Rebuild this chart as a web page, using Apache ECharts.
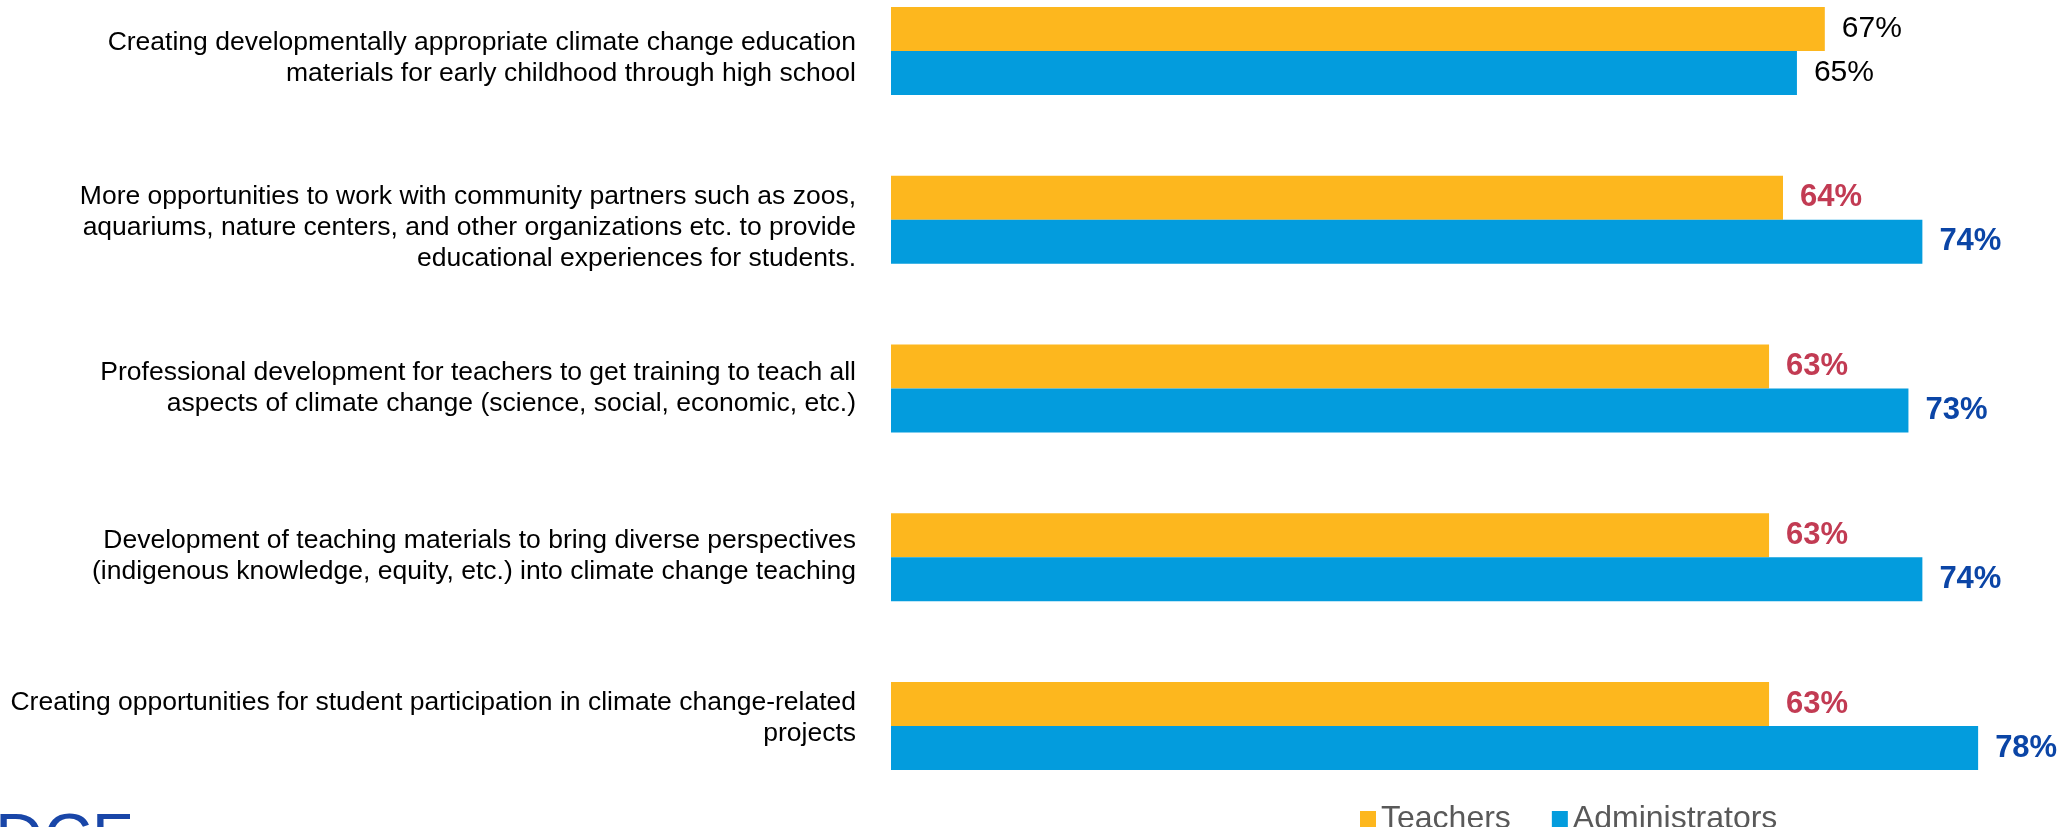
<!DOCTYPE html>
<html>
<head>
<meta charset="utf-8">
<script src="https://cdn.jsdelivr.net/npm/echarts@6/dist/echarts.min.js"></script>
<style>
  html, body { margin: 0; padding: 0; background: #fff; }
  #chart { width: 2069px; height: 827px; }
</style>
</head>
<body>
<div id="chart"></div>
<script>
// categories top to bottom
var categories = [
  "Creating developmentally appropriate climate change education\nmaterials for early childhood through high school",
  "More opportunities to work with community partners such as zoos,\naquariums, nature centers, and other organizations etc. to provide\neducational experiences for students.",
  "Professional development for teachers to get training to teach all\naspects of climate change (science, social, economic, etc.)",
  "Development of teaching materials to bring diverse perspectives\n(indigenous knowledge, equity, etc.) into climate change teaching",
  "Creating opportunities for student participation in climate change-related\nprojects"
];
var teachers = [67, 64, 63, 63, 63];
var administrators = [65, 74, 73, 74, 78];
// first row labels are plain, the rest are bold & coloured
var highlight = [false, true, true, true, true];

var dom = document.getElementById("chart");
var myChart = echarts.init(dom, null, { renderer: "canvas" });

// small vertical nudges of the category text (px, + is down), as in the slide.
// done with an invisible spacer line above / below the text
var labelShift = [7, 8, 0, -1, -8];
var catRich = {};
labelShift.forEach(function (s, i) {
  catRich["sp" + i] = { fontSize: 1, lineHeight: Math.max(1, 2 * Math.abs(s)) };
});

function catFormatter(value, index) {
  var s = labelShift[index] || 0;
  if (s > 0) return "{sp" + index + "| }\n" + value;
  if (s < 0) return value + "\n{sp" + index + "| }";
  return value;
}

function mkLabel(hlColor) {
  return {
    show: true,
    position: "right",
    distance: 17,
    formatter: function (p) {
      return highlight[p.dataIndex] ? "{hl|" + p.value + "%}" : "{pl|" + p.value + "%}";
    },
    rich: {
      pl: { fontFamily: "Liberation Sans", fontSize: 30, color: "#000" },
      hl: { fontFamily: "Liberation Sans", fontSize: 31, fontWeight: "bold", color: hlColor }
    }
  };
}

var option = {
  animation: false,
  backgroundColor: "#fff",
  // boundaryGap off so the first / last category sit on the grid edges
  grid: { left: 891, right: 63, top: 51, bottom: 101 },
  legend: {
    left: 1355,
    top: 798,
    itemWidth: 16,
    itemHeight: 16,
    itemGap: 41,
    icon: "rect",
    textStyle: { fontFamily: "Liberation Sans", fontSize: 32, color: "#595959" },
    data: ["Teachers", "Administrators"]
  },
  xAxis: {
    type: "value",
    min: 0,
    max: 80,
    show: false
  },
  yAxis: {
    type: "category",
    inverse: true,
    boundaryGap: false,
    data: categories,
    axisLine: { show: false },
    axisTick: { show: false },
    splitLine: { show: false },
    axisLabel: {
      margin: 35,
      align: "right",
      fontFamily: "Liberation Sans",
      fontSize: 26.5,
      lineHeight: 31,
      color: "#000",
      formatter: catFormatter,
      rich: catRich
    }
  },
  series: [
    {
      name: "Teachers",
      type: "bar",
      data: teachers,
      barWidth: 44,
      barGap: "0%",
      itemStyle: { color: "#FDB71E" },
      label: mkLabel("#C23B53")
    },
    {
      name: "Administrators",
      type: "bar",
      data: administrators,
      barWidth: 44,
      itemStyle: { color: "#039CDD" },
      label: mkLabel("#0B45A6")
    }
  ],
  graphic: [
    {
      type: "text",
      left: -5,
      top: 808,
      style: { text: "DCF", fontFamily: "Liberation Sans", fontSize: 67, fill: "#1946A8" }
    }
  ]
};

myChart.setOption(option);
window.addEventListener("resize", myChart.resize);
</script>
</body>
</html>
